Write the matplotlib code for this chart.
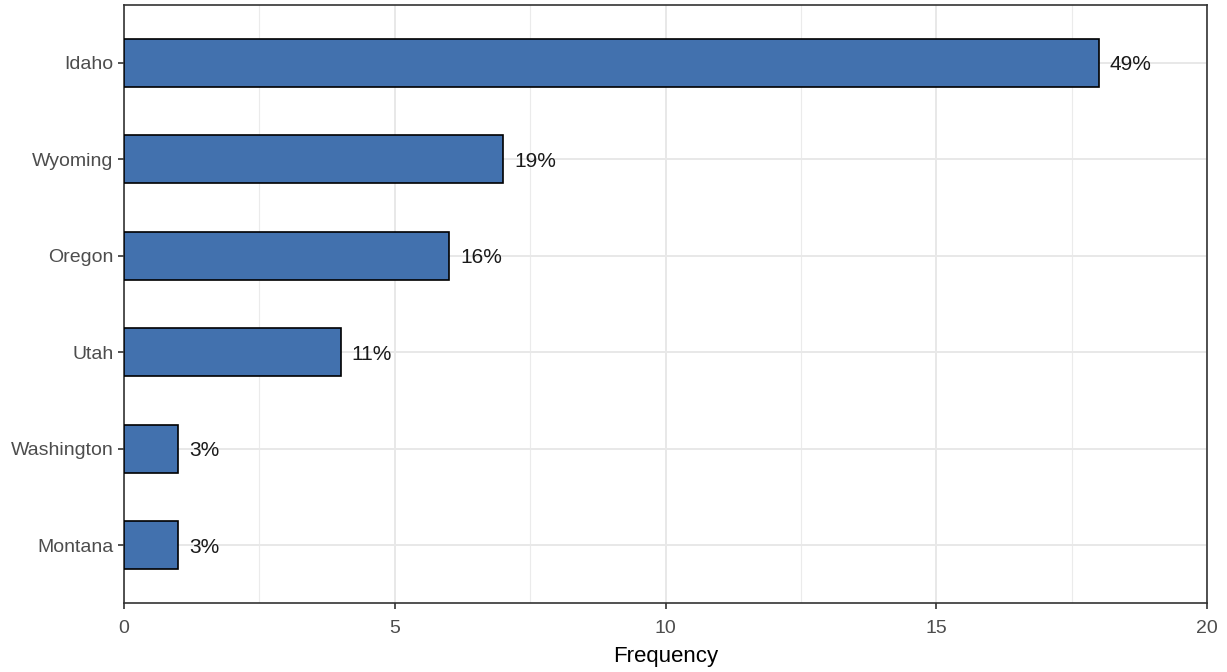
import matplotlib
matplotlib.use("Agg")
import matplotlib.pyplot as plt

states = ["Idaho", "Wyoming", "Oregon", "Utah", "Washington", "Montana"]
counts = [18, 7, 6, 4, 1, 1]
pct_labels = ["49%", "19%", "16%", "11%", "3%", "3%"]
xticks = [0, 5, 10, 15, 20]

plt.rcParams['font.family'] = ['Liberation Sans', 'DejaVu Sans']

fig = plt.figure(figsize=(12.27, 6.72), dpi=100)
ax = fig.add_axes([124/1227, 1-603/672, (1207-124)/1227, (603-5)/672])

n = len(states)
ypos = [n - 1 - i for i in range(n)]
ax.barh(ypos, counts, height=0.5, color="#4271AE", edgecolor="black", linewidth=1.2, zorder=3)
for y, c, lab in zip(ypos, counts, pct_labels):
    ax.annotate(lab, xy=(c, y), xytext=(11, -2), textcoords="offset pixels",
                va="center", ha="left", fontsize=15, color="#1a1a1a", zorder=4)

ax.set_xlim(0, 20)
ax.set_ylim(-0.6, n - 1 + 0.6)
ax.set_xticks(xticks)
ax.set_xticks([2.5, 7.5, 12.5, 17.5], minor=True)
ax.set_yticks(ypos)
ax.set_yticklabels(states)
ax.tick_params(axis="both", which="major", labelsize=14, labelcolor="#4D4D4D", color="#333333", length=4.5, width=1.2)
ax.tick_params(axis="x", which="major", pad=8)
ax.tick_params(axis="y", which="major", pad=3)
ax.tick_params(axis="x", which="minor", length=0)
ax.grid(True, which="major", color="#E8E8E8", linewidth=1.4, zorder=0)
ax.grid(True, which="minor", axis="x", color="#EBEBEB", linewidth=0.8, zorder=0)
ax.set_axisbelow(True)
for s in ax.spines.values():
    s.set_color("#333333")
    s.set_linewidth(1.2)
ax.set_xlabel("Frequency", fontsize=16, color="black", labelpad=6)

fig.savefig("out.png", dpi=100)
